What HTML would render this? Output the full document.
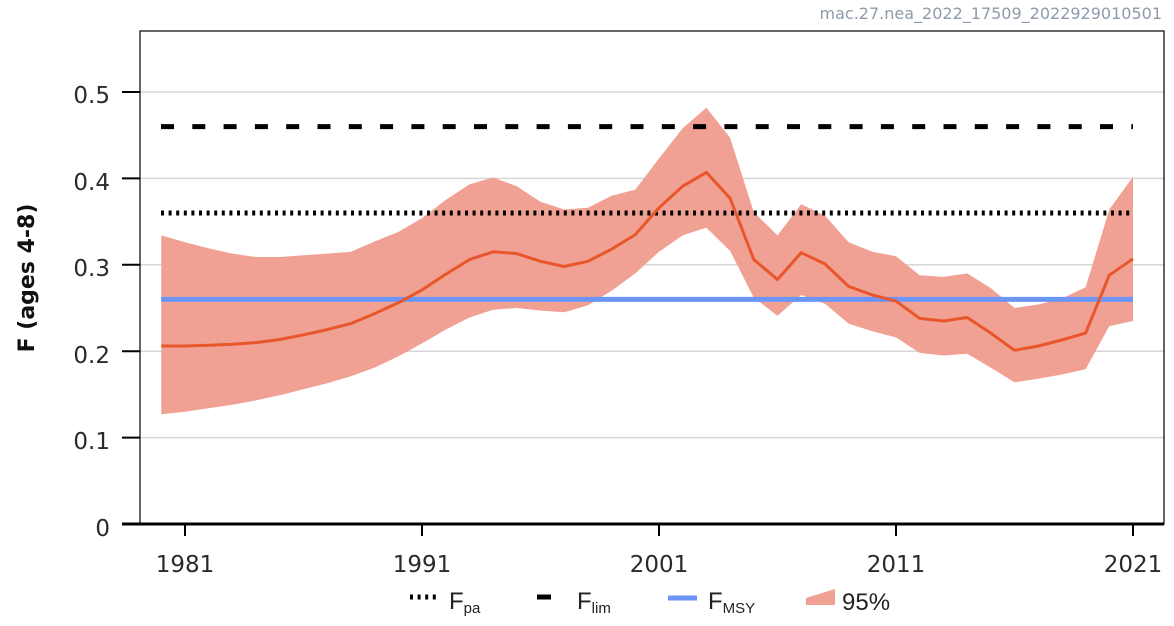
<!DOCTYPE html>
<html><head><meta charset="utf-8"><style>
html,body{margin:0;padding:0;background:#fff;}
svg{display:block;font-family:"DejaVu Sans","Liberation Sans",sans-serif;}
</style></head><body>
<svg id="s" width="1174" height="626" viewBox="0 0 1174 626" xmlns="http://www.w3.org/2000/svg">
<text x="1162" y="19" text-anchor="end" font-size="16" fill="#8e9aaa">mac.27.nea_2022_17509_2022929010501</text>
<g stroke="#d6d6d6" stroke-width="1.5">
<line x1="140" x2="1164" y1="437.6" y2="437.6"/><line x1="140" x2="1164" y1="351.2" y2="351.2"/>
<line x1="140" x2="1164" y1="264.8" y2="264.8"/><line x1="140" x2="1164" y1="178.4" y2="178.4"/>
<line x1="140" x2="1164" y1="92" y2="92"/></g>
<path id="band" fill="#f0a193" stroke="none"/>
<line x1="161" x2="1133" y1="126.6" y2="126.6" stroke="#000" stroke-width="5" stroke-dasharray="13 18.3"/>
<line x1="161" x2="1133" y1="213" y2="213" stroke="#000" stroke-width="5" stroke-dasharray="3 4.6"/>
<line x1="161" x2="1133" y1="299.4" y2="299.4" stroke="#6b96f7" stroke-width="5"/>
<polyline id="med" fill="none" stroke="#e8562a" stroke-width="3" stroke-linejoin="round"/>
<rect x="140" y="31" width="1024" height="493" fill="none" stroke="#000" stroke-width="1.2"/>
<line x1="122" x2="1164" y1="524" y2="524" stroke="#000" stroke-width="3"/>
<g stroke="#000" stroke-width="2">
<line x1="122" x2="140" y1="524" y2="524"/><line x1="122" x2="140" y1="437.6" y2="437.6"/>
<line x1="122" x2="140" y1="351.2" y2="351.2"/><line x1="122" x2="140" y1="264.8" y2="264.8"/>
<line x1="122" x2="140" y1="178.4" y2="178.4"/><line x1="122" x2="140" y1="92" y2="92"/>
<line x1="185" x2="185" y1="524" y2="536"/><line x1="422" x2="422" y1="524" y2="536"/>
<line x1="659" x2="659" y1="524" y2="536"/><line x1="896" x2="896" y1="524" y2="536"/>
<line x1="1133" x2="1133" y1="524" y2="536"/></g>
<g font-size="23" fill="#2a2a2a" text-anchor="end">
<text x="110" y="536">0</text><text x="110" y="449">0.1</text><text x="110" y="363">0.2</text>
<text x="110" y="276">0.3</text><text x="110" y="190">0.4</text><text x="110" y="103">0.5</text></g>
<g font-size="23" fill="#2a2a2a" text-anchor="middle">
<text x="185" y="572">1981</text><text x="422" y="572">1991</text><text x="659" y="572">2001</text>
<text x="896" y="572">2011</text><text x="1133" y="572">2021</text></g>
<text transform="translate(34,278) rotate(-90)" text-anchor="middle" font-size="22" font-weight="bold" fill="#111">F (ages 4-8)</text>
<g font-family="Liberation Sans, sans-serif" fill="#222">
<line x1="410" x2="438" y1="597" y2="597" stroke="#000" stroke-width="5" stroke-dasharray="3 4.6"/>
<text x="449" y="609" font-size="24">F<tspan font-size="15" dy="4">pa</tspan></text>
<line x1="537" x2="551" y1="597" y2="597" stroke="#000" stroke-width="5"/>
<text x="577" y="609" font-size="24">F<tspan font-size="15" dy="4">lim</tspan></text>
<line x1="668" x2="697" y1="598" y2="598" stroke="#6b96f7" stroke-width="5"/>
<text x="708" y="609" font-size="24">F<tspan font-size="15" dy="4">MSY</tspan></text>
<polygon points="806,598 835,589 835,605 806,605" fill="#f0a193"/>
<text x="842" y="610" font-size="24">95%</text></g>
</svg>
<script>
var up=[.334,.326,.319,.313,.309,.309,.311,.313,.315,.327,.338,.354,.375,.393,.401,.391,.373,.364,.366,.380,.387,.423,.458,.482,.447,.361,.334,.370,.357,.326,.315,.310,.288,.286,.290,.273,.250,.254,.261,.274,.364,.402];
var md=[.206,.206,.207,.208,.210,.2135,.219,.225,.232,.2435,.256,.271,.289,.306,.315,.313,.304,.298,.304,.318,.335,.366,.391,.407,.377,.306,.283,.314,.301,.275,.265,.258,.238,.235,.239,.221,.201,.206,.213,.221,.288,.307];
var lo=[.127,.130,.134,.138,.143,.149,.156,.163,.171,.181,.194,.209,.225,.239,.248,.250,.247,.245,.253,.270,.290,.315,.334,.343,.316,.262,.241,.265,.255,.232,.223,.216,.198,.195,.197,.181,.164,.168,.173,.179,.229,.235];
function X(i){return 161.3+i*23.7;}function Y(v){return 524-v*864;}
var a=[],m=[];
for(var i=0;i<up.length;i++){a.push(X(i).toFixed(1)+","+Y(up[i]).toFixed(1));m.push(X(i).toFixed(1)+","+Y(md[i]).toFixed(1));}
for(var i=lo.length-1;i>=0;i--)a.push(X(i).toFixed(1)+","+Y(lo[i]).toFixed(1));
document.getElementById("band").setAttribute("d","M"+a.join("L")+"Z");
document.getElementById("med").setAttribute("points",m.join(" "));
</script>
</body></html>
